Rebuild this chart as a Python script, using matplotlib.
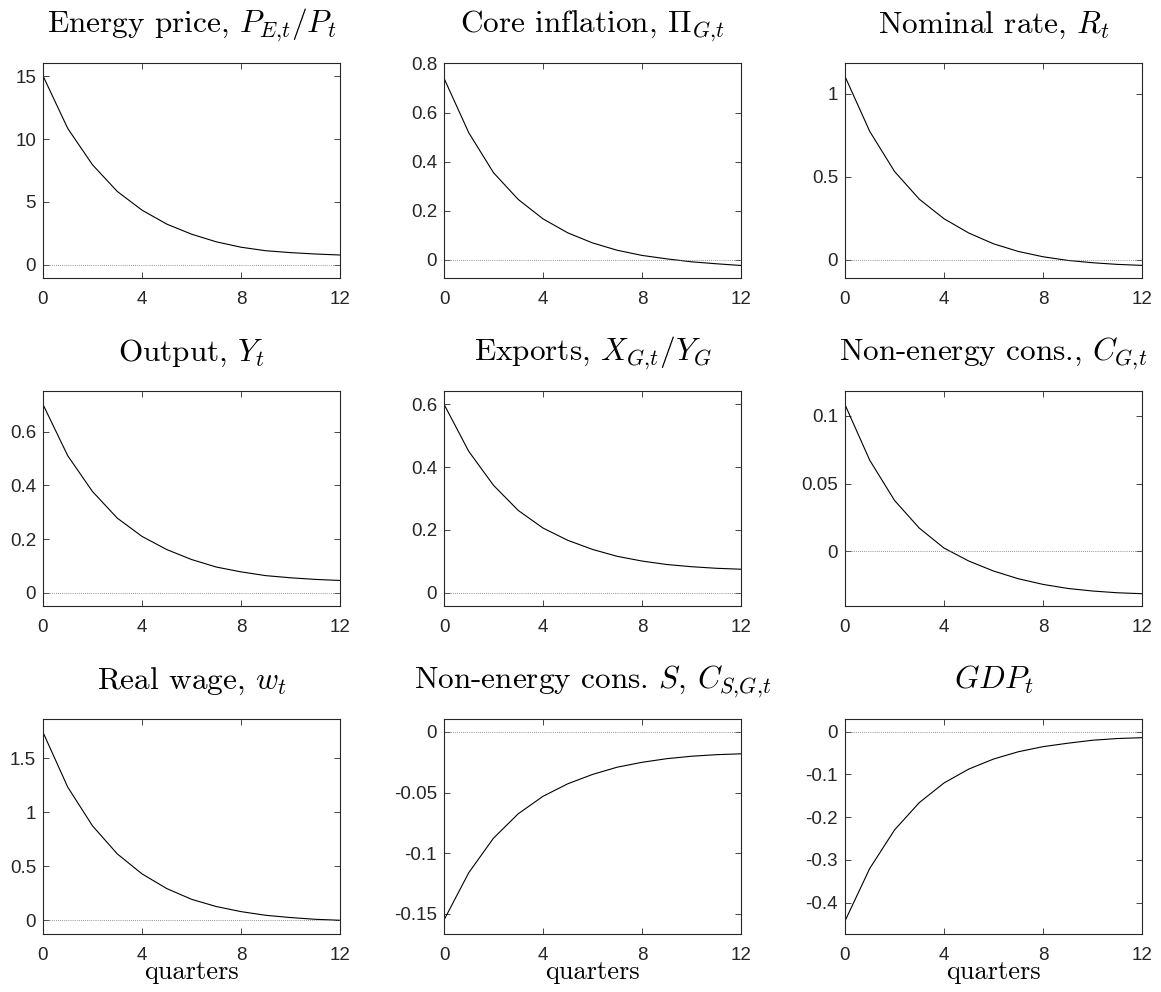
import matplotlib
matplotlib.use("Agg")
import matplotlib.pyplot as plt
from matplotlib.ticker import FuncFormatter, FixedLocator

plt.rcParams['mathtext.fontset'] = 'cm'
plt.rcParams['font.family'] = ['Liberation Sans', 'DejaVu Sans']

quarters = list(range(13))

energy_price = [15.04, 10.85, 7.96, 5.84, 4.35, 3.24, 2.44, 1.83, 1.40, 1.12, 0.97, 0.86, 0.78]
core_inflation = [0.740, 0.518, 0.355, 0.246, 0.167, 0.110, 0.069, 0.039, 0.018, 0.004, -0.008, -0.016, -0.023]
nominal_rate = [1.104, 0.773, 0.532, 0.365, 0.247, 0.161, 0.096, 0.050, 0.018, -0.004, -0.018, -0.028, -0.034]
output = [0.701, 0.510, 0.377, 0.278, 0.210, 0.161, 0.124, 0.096, 0.078, 0.064, 0.056, 0.050, 0.046]
exports = [0.600, 0.450, 0.342, 0.262, 0.206, 0.167, 0.138, 0.116, 0.101, 0.090, 0.083, 0.078, 0.075]
nonenergy_cons = [0.1084, 0.0672, 0.0375, 0.0170, 0.0022, -0.0074, -0.0148, -0.0205, -0.0247, -0.0277, -0.0296, -0.0309, -0.0316]
real_wage = [1.738, 1.231, 0.873, 0.614, 0.429, 0.293, 0.194, 0.127, 0.080, 0.046, 0.025, 0.009, 0.000]
nonenergy_cons_s = [-0.155, -0.116, -0.0875, -0.0674, -0.0530, -0.0427, -0.0350, -0.0290, -0.0250, -0.0220, -0.0200, -0.0187, -0.0180]
gdp = [-0.443, -0.320, -0.230, -0.166, -0.120, -0.0875, -0.064, -0.047, -0.035, -0.027, -0.020, -0.016, -0.014]

titles = [
    r'Energy price, $P_{E{,}t}/P_t$',
    r'Core inflation, $\Pi_{G{,}t}$',
    r'Nominal rate, $R_t$',
    r'Output, $Y_t$',
    r'Exports, $X_{G{,}t}/Y_G$',
    r'Non-energy cons., $C_{G{,}t}$',
    r'Real wage, $w_t$',
    r'Non-energy cons. $S$, $C_{S{,}G{,}t}$',
    r'$GDP_t$',
]
series = [energy_price, core_inflation, nominal_rate, output, exports,
          nonenergy_cons, real_wage, nonenergy_cons_s, gdp]
ylims = [(-1.05, 16.06), (-0.074, 0.802), (-0.11, 1.185), (-0.049, 0.751),
         (-0.042, 0.642), (-0.0407, 0.1185), (-0.127, 1.861), (-0.1665, 0.0107), (-0.4734, 0.0297)]
yticks = [[0, 5, 10, 15], [0, 0.2, 0.4, 0.6, 0.8], [0, 0.5, 1], [0, 0.2, 0.4, 0.6],
          [0, 0.2, 0.4, 0.6], [0, 0.05, 0.1], [0, 0.5, 1, 1.5], [-0.15, -0.1, -0.05, 0],
          [-0.4, -0.3, -0.2, -0.1, 0]]
xticks = [0, 4, 8, 12]

W, H = 1161, 992
fig = plt.figure(figsize=(W / 100, H / 100), dpi=100)

lefts = [43, 444, 845]
tops = [63, 391, 719]
aw, ah = 297, 215
gray = (0.15, 0.15, 0.15)

fmt = FuncFormatter(lambda v, p: ('%g' % v).replace('\u2212', '-'))

for i in range(9):
    r, c = divmod(i, 3)
    ax = fig.add_axes([lefts[c] / W, 1 - (tops[r] + ah) / H, aw / W, ah / H])
    ax.plot(quarters, series[i], color='black', lw=0.8)
    ax.axhline(0, color='0.45', lw=0.6, ls=(0, (1, 1.5)))
    ax.set_xlim(0, 12)
    ax.set_ylim(*ylims[i])
    ax.xaxis.set_major_locator(FixedLocator(xticks))
    ax.yaxis.set_major_locator(FixedLocator(yticks[i]))
    ax.xaxis.set_major_formatter(fmt)
    ax.yaxis.set_major_formatter(fmt)
    ax.tick_params(direction='in', length=4, width=0.6, colors=gray, labelsize=13.5,
                   top=True, right=True)
    ax.tick_params(axis='x', pad=9)
    ax.tick_params(axis='y', pad=5)
    for s in ax.spines.values():
        s.set_color(gray)
        s.set_linewidth(0.8)
    ax.set_title(titles[i], fontsize=22.5, pad=22, color='black', fontfamily='cmr10')
    if r == 2:
        ax.set_xlabel('quarters', fontsize=19, labelpad=-2, color='black', fontfamily='cmr10')

fig.savefig('out.png', dpi=100)
